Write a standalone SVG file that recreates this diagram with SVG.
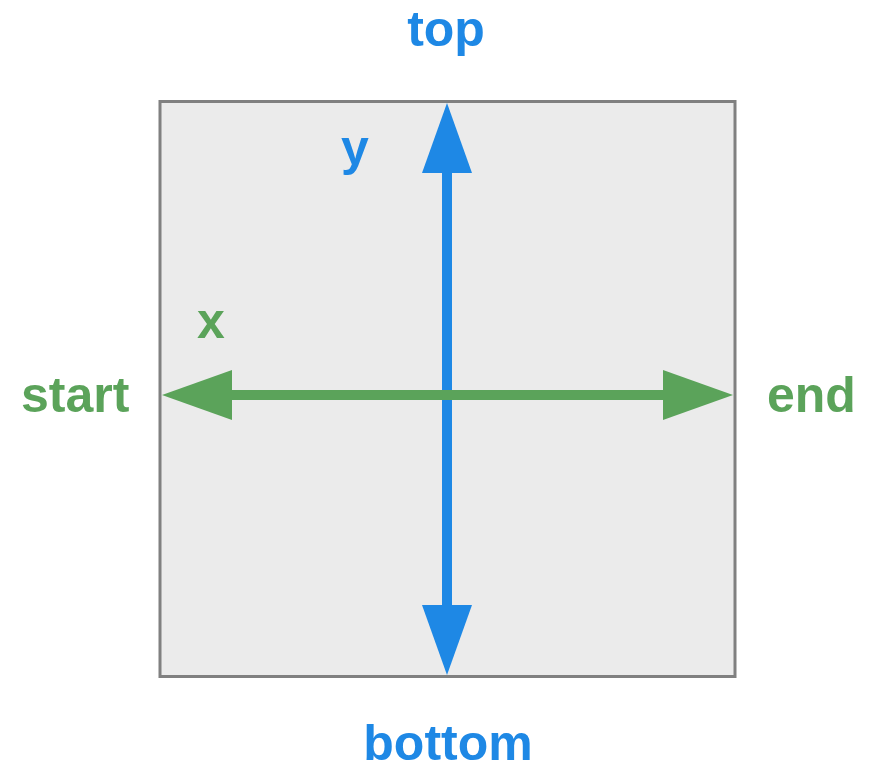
<svg xmlns="http://www.w3.org/2000/svg" width="874" height="771" viewBox="0 0 874 771">
  <style>
    .lbl { font-family: "Liberation Sans", Arial, sans-serif; font-weight: bold; font-size: 50px; }
    .blue { fill: #1E88E5; }
    .green { fill: #5BA35A; }
    .box { fill: #EBEBEB; stroke: #808080; stroke-width: 3; }
  </style>
  <defs>
    <marker id="headBlue" viewBox="0 0 70 50" refX="0" refY="25" markerWidth="70" markerHeight="50" markerUnits="userSpaceOnUse" orient="auto-start-reverse">
      <path d="M0,0 L70,25 L0,50 Z" fill="#1E88E5"/>
    </marker>
    <marker id="headGreen" viewBox="0 0 70 50" refX="0" refY="25" markerWidth="70" markerHeight="50" markerUnits="userSpaceOnUse" orient="auto-start-reverse">
      <path d="M0,0 L70,25 L0,50 Z" fill="#5BA35A"/>
    </marker>
  </defs>
  <rect width="874" height="771" fill="#FFFFFF"/>
  <g id="box">
    <rect class="box" x="160" y="101.5" width="575" height="575"/>
  </g>
  <g id="connectors">
    <line x1="447" y1="173" x2="447" y2="605" stroke="#1E88E5" stroke-width="10" marker-start="url(#headBlue)" marker-end="url(#headBlue)"/>
    <line x1="232" y1="395" x2="663" y2="395" stroke="#5BA35A" stroke-width="10" marker-start="url(#headGreen)" marker-end="url(#headGreen)"/>
  </g>
  <g id="label-top"><text class="lbl blue" x="446" y="46" text-anchor="middle">top</text></g>
  <g id="label-bottom"><text class="lbl blue" x="448" y="760" text-anchor="middle">bottom</text></g>
  <g id="label-start"><text class="lbl green" x="21" y="412">start</text></g>
  <g id="label-end"><text class="lbl green" x="767" y="412">end</text></g>
  <g id="label-y"><text class="lbl blue" x="341" y="165">y</text></g>
  <g id="label-x"><text class="lbl green" x="197" y="338">x</text></g>
</svg>
